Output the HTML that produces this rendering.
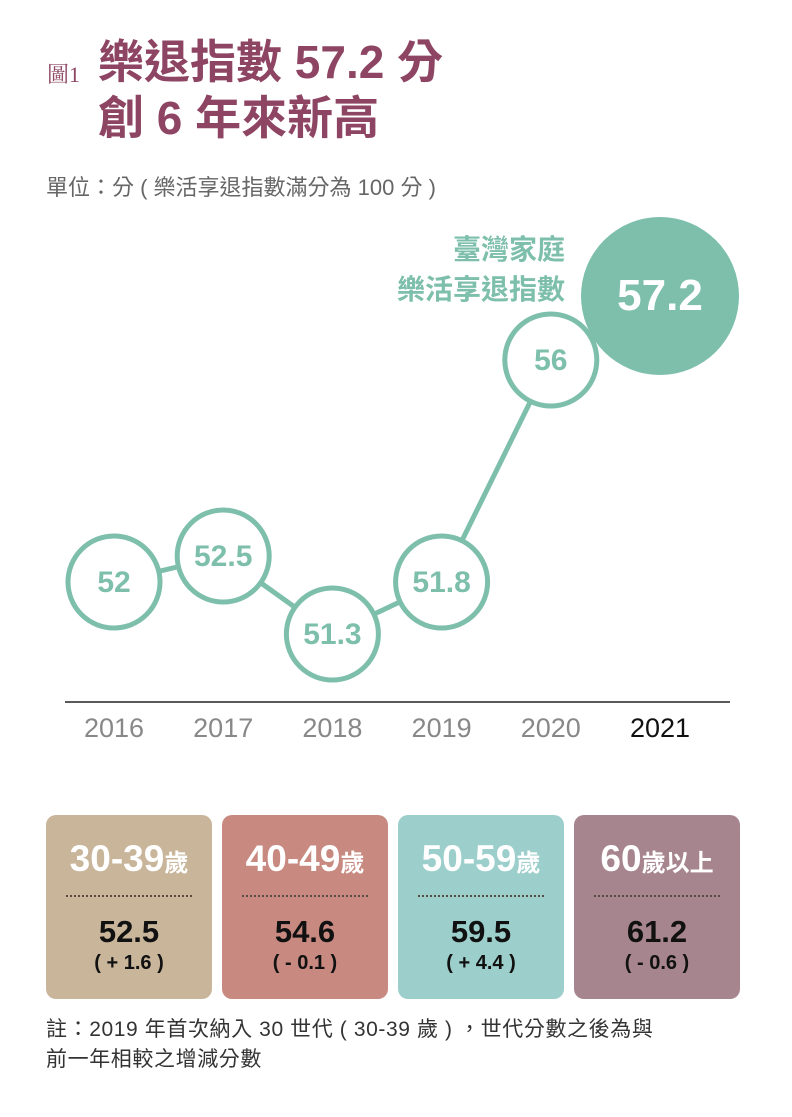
<!DOCTYPE html>
<html><head><meta charset="utf-8"><style>
body{margin:0;background:#fff;width:792px;height:1117px;overflow:hidden;font-family:"Liberation Sans","Noto Sans CJK TC",sans-serif;}
.abs{position:absolute;}
.card{position:absolute;top:815px;width:166px;height:184px;border-radius:10px;text-align:center;}
.card .lab{position:absolute;top:23px;left:0;right:0;color:#fff;font-weight:bold;font-size:37px;white-space:nowrap;}
.card .lab small{font-size:24px;}
.card .dot{position:absolute;top:80px;left:20px;right:20px;border-top:2px dotted #5a4a44;}
.card .val{position:absolute;top:99px;left:0;right:0;font-weight:bold;font-size:31px;color:#111;}
.card .dl{position:absolute;top:137px;left:0;right:0;font-weight:bold;font-size:20px;color:#111;}
</style></head><body>
<div class="abs" style="left:47px;top:58px;font-family:'Liberation Serif','Noto Serif CJK SC',serif;font-size:22px;color:#8e4563;">圖1</div>
<div class="abs" style="left:98px;top:34px;font-size:46px;font-weight:bold;color:#8e4563;line-height:56px;">樂退指數 57.2 分<br>創 6 年來新高</div>
<div class="abs" style="left:46px;top:170px;font-size:22px;color:#666;">單位：分 ( 樂活享退指數滿分為 100 分 )</div>
<div class="abs" style="right:227px;top:230px;text-align:right;font-size:28px;font-weight:bold;color:#7dbfab;line-height:40px;">臺灣家庭<br>樂活享退指數</div>
<svg id="chart" class="abs" style="left:0;top:0" width="792" height="800"></svg>
<div class="card" style="left:46px;background:#c8b59a"><div class="lab">30-39<small>歲</small></div><div class="dot"></div><div class="val">52.5</div><div class="dl">( + 1.6 )</div></div>
<div class="card" style="left:222px;background:#c88a80"><div class="lab">40-49<small>歲</small></div><div class="dot"></div><div class="val">54.6</div><div class="dl">( - 0.1 )</div></div>
<div class="card" style="left:398px;background:#9ccfcb"><div class="lab">50-59<small>歲</small></div><div class="dot"></div><div class="val">59.5</div><div class="dl">( + 4.4 )</div></div>
<div class="card" style="left:574px;background:#a7858f"><div class="lab">60<small>歲以上</small></div><div class="dot"></div><div class="val">61.2</div><div class="dl">( - 0.6 )</div></div>
<div class="abs" style="left:46px;top:1015px;font-size:21px;letter-spacing:0.6px;color:#333;line-height:30px;">註：2019 年首次納入 30 世代 ( 30-39 歲 ) ，世代分數之後為與<br>前一年相較之增減分數</div>
<script>
const years=["2016","2017","2018","2019","2020","2021"];
const values=[52,52.5,51.3,51.8,56,57.2];
const NS="http://www.w3.org/2000/svg";
const svg=document.getElementById('chart');
function x(i){return 114+i*109.2;}
const kd=[51.3,51.8,52,52.5,56,57.2],kr=[634,582,582,556,360,296];
function y(v){let i=0;while(i<kd.length-2&&v>kd[i+1])i++;const t=(v-kd[i])/(kd[i+1]-kd[i]);return kr[i]+t*(kr[i+1]-kr[i]);}
function mk(t,a){const e=document.createElementNS(NS,t);for(const k in a)e.setAttribute(k,a[k]);svg.appendChild(e);return e;}
const teal="#7dbfab";
let ax=mk('line',{x1:65,x2:730,y1:702,y2:702,stroke:'#222','stroke-width':1.5});


for(let i=0;i<values.length-2;i++){
 const l=mk('line',{x1:x(i),y1:y(values[i]),x2:x(i+1),y2:y(values[i+1]),stroke:teal,'stroke-width':5});
 
 
}
values.forEach((v,i)=>{
 const last=i===values.length-1;
 const c=mk('circle',{cx:x(i),cy:y(v),r:last?79:46,fill:last?teal:'#fff',stroke:teal,'stroke-width':last?0:5});
 
 
 const t=mk('text',{x:x(i),y:y(v)+(last?14:10),'text-anchor':'middle','font-size':last?44:30,'font-weight':'bold',fill:last?'#fff':teal});
 t.textContent=String(v);
 
 
 const yl=mk('text',{x:x(i),y:737,'text-anchor':'middle','font-size':27,fill:last?'#111':'#888'});
 yl.textContent=years[i];
 
 
});
</script>
</body></html>
